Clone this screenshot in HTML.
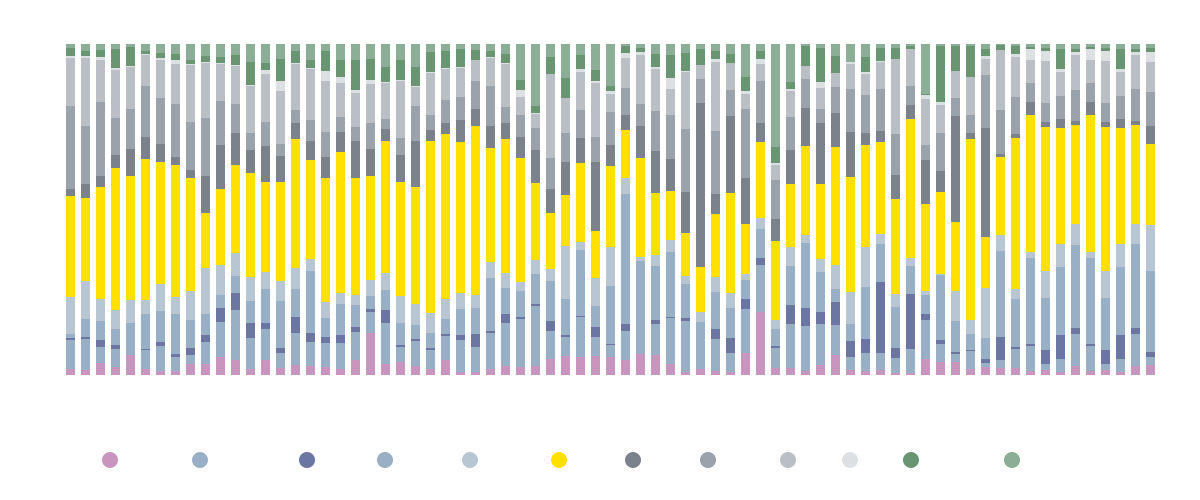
<!DOCTYPE html>
<html><head><meta charset="utf-8"><style>
html,body{margin:0;padding:0;background:#fff;width:1200px;height:500px;overflow:hidden}
svg{display:block}
</style></head><body>
<svg id="s" width="1200" height="500" xmlns="http://www.w3.org/2000/svg"></svg>
<script>
var C=['#c795be','#98afc5','#6b76a3','#98afc5','#b8c6d4','#ffe000','#7b828c','#9aa2ab','#b9bfc5','#dde0e3','#6a9572','#8cae96'];
var D=[
[369,340,338,334,297,196,189,106,58,56,48],
[370,339,337,319,281,198,184,126,58,56,51],
[363,347,340,321,299,187,176,102,60,57,50],
[367,349,345,329,310,168,155,118,70,68,49],
[355,355,355,323,300,176,149,109,67,66,47],
[369,350,349,314,300,159,137,86,55,54,51],
[371,346,342,311,284,162,144,98,60,58,53],
[371,357,354,314,297,165,157,104,64,60,54],
[364,355,348,320,291,178,170,122,65,64,60],
[364,342,335,314,268,213,176,118,63,62,56],
[357,322,308,295,265,189,145,101,64,63,57],
[360,310,293,276,253,165,133,104,66,65,55],
[369,338,323,301,277,173,150,133,86,85,62],
[360,329,323,289,272,182,146,122,74,70,63],
[368,353,348,301,281,182,156,144,91,81,59],
[365,333,317,289,268,139,123,110,64,63,51],
[366,342,333,271,259,160,141,120,69,68,60],
[367,343,337,318,302,178,157,132,81,71,51],
[369,343,335,304,293,152,132,117,83,77,60],
[360,332,327,305,295,178,141,127,93,90,60],
[333,312,309,296,280,176,149,123,84,80,59],
[364,323,310,290,273,141,129,119,83,82,67],
[362,347,345,323,296,182,155,138,81,80,60],
[366,341,339,325,304,187,141,106,87,86,67],
[369,350,348,333,313,141,130,115,73,72,52],
[360,336,334,319,299,134,123,100,69,68,51],
[372,340,335,309,293,142,120,97,68,67,49],
[372,347,334,308,295,126,109,81,60,60,50],
[369,333,331,278,262,148,126,86,58,57,51],
[366,323,314,288,273,139,123,107,64,63,54],
[367,319,317,291,282,158,137,115,97,90,80],
[366,306,304,274,260,183,150,128,114,113,106],
[359,331,321,281,269,213,189,158,74,74,57],
[356,337,335,299,246,195,162,133,98,98,78],
[357,317,316,250,242,163,138,110,72,69,55],
[356,337,327,306,278,231,162,137,83,81,70],
[357,345,344,286,247,166,145,112,94,91,86],
[360,331,324,194,178,130,115,88,58,53,46],
[354,261,261,261,257,158,126,104,55,52,48],
[355,324,320,266,255,193,151,111,69,67,54],
[364,318,317,252,240,191,159,115,89,78,55],
[372,321,318,284,276,233,192,129,72,71,53],
[369,322,322,322,312,267,103,79,65,65,49],
[371,339,329,292,277,214,194,131,62,59,51],
[372,353,338,308,293,193,116,90,63,63,54],
[353,309,299,280,274,224,178,109,94,91,77],
[312,265,258,229,218,142,123,81,64,59,51],
[368,348,346,329,320,241,219,180,165,163,147],
[368,324,305,266,247,184,150,117,91,89,82],
[371,326,308,243,235,146,108,79,66,66,46],
[365,324,312,272,259,184,123,109,88,82,48],
[355,325,302,289,265,147,113,87,73,73,56],
[370,357,341,324,292,177,132,89,64,62,62],
[371,353,339,287,247,145,133,95,74,72,57],
[370,353,282,244,234,142,131,89,62,61,48],
[373,358,348,307,294,199,175,134,59,59,48],
[373,349,294,266,258,119,105,86,49,49,46],
[359,320,314,295,291,204,160,145,99,95,94],
[362,344,340,275,274,192,171,133,105,102,46],
[362,354,352,321,291,222,116,98,71,71,46],
[369,351,350,334,320,139,133,115,77,77,46],
[367,363,359,338,288,237,128,75,59,56,49],
[368,360,337,251,235,157,154,110,50,50,45],
[368,349,347,299,289,138,134,97,57,54,46],
[371,346,344,258,252,115,102,83,60,49,47],
[370,364,350,298,271,127,122,103,61,51,48],
[372,359,335,267,244,128,119,96,72,69,49],
[366,334,328,245,224,125,121,90,55,52,49],
[371,346,344,258,252,115,102,83,60,49,47],
[370,364,350,298,271,127,122,103,61,51,48],
[372,359,335,267,244,128,119,96,72,69,49],
[366,334,328,244,224,125,121,89,55,52,49],
[365,357,352,271,225,144,126,92,62,52,48]
];
var h='';
for(var i=0;i<D.length;i++){
  var x=66+i*15, b=375, d=D[i];
  for(var k=0;k<12;k++){
    var t=k<11?d[k]:44;
    if(b-t>0) h+='<rect x="'+x+'" y="'+t+'" width="9" height="'+(b-t)+'" fill="'+C[k]+'"/>';
    b=Math.min(b,t);
  }
}
var LX=[110,200,307,385,470,559,633,708,788,850,911,1012];
for(var j=0;j<12;j++) h+='<circle cx="'+LX[j]+'" cy="460" r="8" fill="'+C[j]+'"/>';
document.getElementById('s').innerHTML=h;
</script>
</body></html>
